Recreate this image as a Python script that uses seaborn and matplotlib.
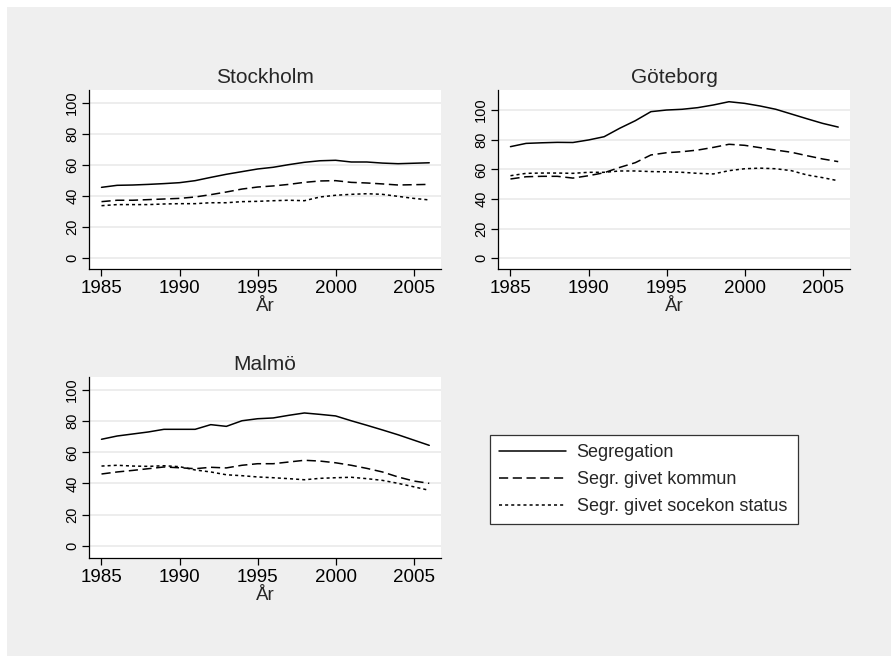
import numpy as np
import pandas as pd
import seaborn as sns
import matplotlib
matplotlib.use("Agg")
from matplotlib import pyplot as plt
from matplotlib.patches import Rectangle

sns.set_style("white")
plt.rcParams['font.family'] = ['Liberation Sans', 'DejaVu Sans']

# data
years = list(range(1985, 2007))

sthlm_seg = [45.6, 46.9, 47.1, 47.5, 48.0, 48.6, 49.9, 52.0, 54.0, 55.7, 57.4,
             58.5, 60.2, 61.7, 62.7, 63.0, 61.9, 61.9, 61.2, 60.8, 61.1, 61.4]
sthlm_kom = [36.4, 37.3, 37.3, 37.7, 38.1, 38.5, 39.4, 40.9, 42.6, 44.5, 45.8,
             46.5, 47.5, 48.8, 49.7, 49.9, 48.8, 48.4, 47.8, 47.1, 47.3, 47.5]
sthlm_soc = [33.8, 34.5, 34.5, 34.5, 34.9, 35.1, 35.1, 35.7, 35.7, 36.4, 36.6,
             37.0, 37.3, 37.0, 39.4, 40.5, 41.1, 41.5, 41.1, 39.8, 38.5, 37.5]

gbg_seg = [75.3, 77.5, 77.9, 78.2, 78.1, 79.8, 82.0, 87.7, 92.8, 98.9, 100.0,
           100.5, 101.6, 103.4, 105.6, 104.5, 102.7, 100.5, 97.3, 94.1, 91.0, 88.5]
gbg_kom = [53.5, 55.0, 55.3, 55.3, 54.1, 55.7, 57.7, 61.3, 64.5, 69.7, 71.2,
           71.9, 73.0, 74.8, 76.9, 76.2, 74.6, 73.0, 71.5, 69.2, 67.0, 65.2]
gbg_soc = [55.7, 57.3, 57.5, 57.5, 57.3, 58.0, 58.0, 58.9, 58.9, 58.5, 58.3,
           58.0, 57.3, 56.9, 59.1, 60.4, 60.8, 60.4, 59.1, 56.2, 54.4, 52.3]

malmo_seg = [68.4, 70.5, 71.8, 73.1, 74.8, 74.8, 74.8, 77.8, 76.7, 80.3, 81.6,
             82.1, 83.8, 85.3, 84.4, 83.4, 80.3, 77.4, 74.4, 71.3, 67.9, 64.5]
malmo_kom = [46.1, 47.4, 48.4, 49.5, 50.6, 50.1, 49.5, 50.4, 50.0, 51.7, 52.7,
             52.7, 53.8, 54.9, 54.4, 53.3, 51.7, 49.7, 47.4, 44.2, 41.6, 40.1]
malmo_soc = [51.2, 51.7, 51.2, 51.0, 51.4, 50.8, 48.7, 47.4, 45.6, 45.0, 44.2,
             43.7, 43.1, 42.4, 43.3, 43.7, 44.0, 43.1, 42.0, 40.1, 37.9, 35.6]

series_names = ["Segregation", "Segr. givet kommun", "Segr. givet socekon status"]
cities = {
    "Stockholm": [sthlm_seg, sthlm_kom, sthlm_soc],
    "Göteborg": [gbg_seg, gbg_kom, gbg_soc],
    "Malmö": [malmo_seg, malmo_kom, malmo_soc],
}

rows = []
for city, series in cities.items():
    for name, vals in zip(series_names, series):
        for yr, v in zip(years, vals):
            rows.append({"city": city, "serie": name, "ar": yr, "varde": v})
df = pd.DataFrame(rows)

dash_map = {"Segregation": "", "Segr. givet kommun": (6, 3),
            "Segr. givet socekon status": (2, 2)}

fig = plt.figure(figsize=(8.91, 6.56), dpi=100)
fig.patch.set_facecolor("white")
fig.patches.append(Rectangle((7 / 891, 0), 1, 1 - 7 / 656, transform=fig.transFigure,
                             facecolor="#efefef", edgecolor="none", zorder=-10))

# axes positions [left, bottom, width, height]
positions = {
    "Stockholm": [0.0999, 0.5895, 0.395, 0.2733],
    "Göteborg": [0.5589, 0.5895, 0.395, 0.2733],
    "Malmö": [0.0999, 0.1498, 0.395, 0.275],
}
ylims = {"Stockholm": (-7.1, 108.2), "Göteborg": (-7.4, 113.5), "Malmö": (-7.7, 108.2)}

handles = None
for city in cities:
    ax = fig.add_axes(positions[city])
    ax.set_facecolor("white")
    sub = df[df.city == city]
    sns.lineplot(data=sub, x="ar", y="varde", style="serie", dashes=dash_map,
                 style_order=series_names, color="black", linewidth=1.1, ax=ax,
                 legend=(handles is None))
    if handles is None:
        leg = ax.get_legend()
        handles = leg.legend_handles
        labels = [t.get_text() for t in leg.get_texts()]
        leg.remove()
    ax.set_xlim(1984.2, 2006.75)
    ax.set_ylim(*ylims[city])
    ax.set_xticks([1985, 1990, 1995, 2000, 2005])
    ax.set_yticks([0, 20, 40, 60, 80, 100])
    ax.yaxis.grid(True, color="#e8e8e8", linewidth=1.1)
    ax.set_axisbelow(True)
    for s in ["top", "right"]:
        ax.spines[s].set_visible(False)
    for s in ["left", "bottom"]:
        ax.spines[s].set_color("black")
        ax.spines[s].set_linewidth(0.9)
    ax.tick_params(axis="x", direction="out", length=5, width=0.9, labelsize=13.5,
                   pad=3, bottom=True, colors="black")
    ax.tick_params(axis="y", direction="out", length=5, width=0.9, labelsize=10.5,
                   pad=2, left=True, labelrotation=90, colors="black")
    for lab in ax.get_yticklabels():
        lab.set_va("center")
    ax.set_title(city, fontsize=15, pad=5)
    ax.set_xlabel("År", fontsize=13.5, labelpad=0.5)
    ax.set_ylabel("")

leg = fig.legend(handles, labels, loc="upper left",
                 bbox_to_anchor=(490 / 891, 0.1966, 308 / 891, 0.14), mode="expand",
                 fontsize=13, frameon=True, fancybox=False, framealpha=1,
                 edgecolor="#333333", handlelength=3.7, handletextpad=0.6,
                 labelspacing=0.55, borderpad=0.5, borderaxespad=0)
leg.get_frame().set_linewidth(0.9)
for h in leg.legend_handles:
    h.set_color("black")
    h.set_linewidth(1.1)

fig.savefig("out.png", dpi=100)
